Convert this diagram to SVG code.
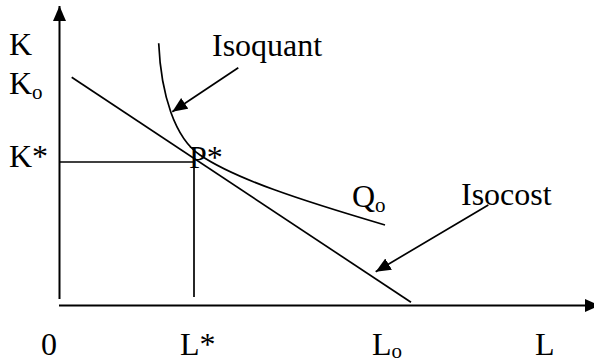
<svg xmlns="http://www.w3.org/2000/svg" width="594" height="362" viewBox="0 0 594 362">
<style>
.t{font-family:"Liberation Serif","Times New Roman",serif;font-size:32px;fill:#000}
.sub{font-size:21px}
.ln{stroke:#000;stroke-width:2;fill:none}
.th{stroke:#000;stroke-width:1.7;fill:none}
</style>
<defs>
<marker id="ah" markerUnits="userSpaceOnUse" markerWidth="16" markerHeight="14" refX="15" refY="6.5" orient="auto">
<path d="M0,0 L15,6.5 L0,13 z" fill="#000"/>
</marker>
</defs>
<rect width="594" height="362" fill="#fff"/>
<g id="axes">
<line class="ln" x1="59.5" y1="299" x2="59.5" y2="6" marker-end="url(#ah)"/>
<line class="ln" x1="59" y1="305.5" x2="600" y2="305.5" marker-end="url(#ah)"/>
</g>
<g id="guides">
<line class="th" x1="59" y1="162" x2="194" y2="162"/>
<line class="th" x1="194" y1="162" x2="194" y2="297"/>
</g>
<g id="isocost-line">
<line class="th" x1="71.7" y1="77.3" x2="411" y2="302.3"/>
</g>
<g id="isoquant-curve">
<path class="th" d="M158.7,43.3 C161,95 175,138 200,155 C235,178.8 300,200 385,225"/>
</g>
<g id="connectors">
<line class="th" x1="238.3" y1="67.7" x2="172.3" y2="111.7" marker-end="url(#ah)"/>
<line class="th" x1="488.3" y1="205" x2="375.7" y2="271.7" marker-end="url(#ah)"/>
</g>
<g id="labels">
<text class="t" x="9" y="55">K</text>
<text class="t" x="9" y="94">K<tspan class="sub" dy="5">o</tspan></text>
<text class="t" x="9" y="167">K*</text>
<text class="t" x="189" y="168">P*</text>
<text class="t" x="212" y="56">Isoquant</text>
<text class="t" x="352" y="207">Q<tspan class="sub" dy="5">o</tspan></text>
<text class="t" x="461" y="205">Isocost</text>
<text class="t" x="41" y="355">0</text>
<text class="t" x="180" y="355">L*</text>
<text class="t" x="372" y="355">L<tspan class="sub" dy="3">o</tspan></text>
<text class="t" x="535" y="355">L</text>
</g>
</svg>
